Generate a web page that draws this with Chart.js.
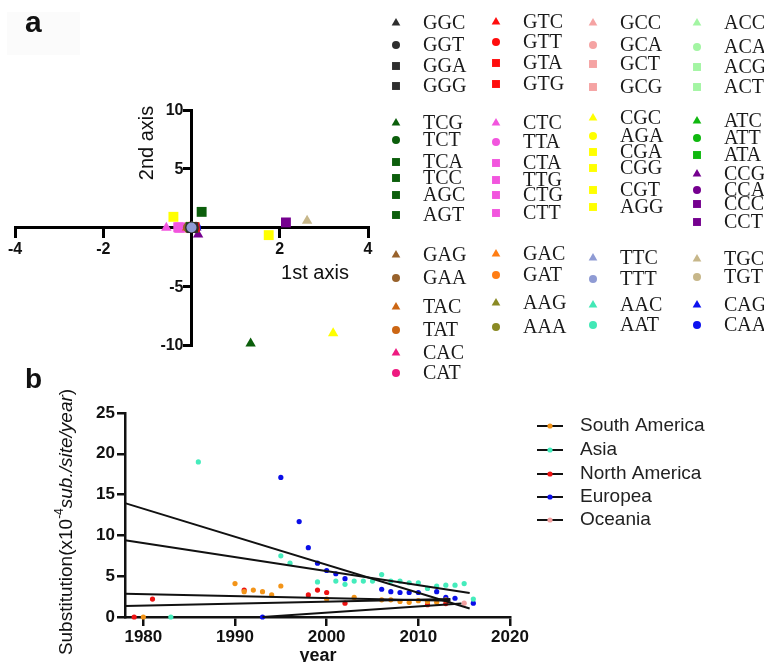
<!DOCTYPE html>
<html>
<head>
<meta charset="utf-8">
<script src="https://cdn.jsdelivr.net/npm/chart.js@4.4.1/dist/chart.umd.min.js"></script>
<style>
  html, body { margin: 0; padding: 0; background: #fff; }
  #wrap { position: relative; width: 764px; height: 662px; overflow: hidden; background: #fff; }
  #chartA { position: absolute; left: 0; top: 0; }
  #chartB { position: absolute; left: 0; top: 355px; }
</style>
</head>
<body>
<div id="wrap">
  <canvas id="chartA" width="764" height="380"></canvas>
  <canvas id="chartB" width="764" height="307"></canvas>
</div>
<script>
// panel a: codon usage on the first two axes
const codons = [
  "GGC", "GGT", "GGA", "GGG", "TCG", "TCT", "TCA", "TCC", "AGC", "AGT", "GAG", "GAA", "TAC", "TAT", "CAC", "CAT",
  "GTC", "GTT", "GTA", "GTG", "CTC", "TTA", "CTA", "TTG", "CTG", "CTT", "GAC", "GAT", "AAG", "AAA",
  "GCC", "GCA", "GCT", "GCG", "CGC", "AGA", "CGA", "CGG", "CGT", "AGG", "TTC", "TTT", "AAC", "AAT",
  "ACC", "ACA", "ACG", "ACT", "ATC", "ATT", "ATA", "CCG", "CCA", "CCC", "CCT", "TGC", "TGT", "CAG", "CAA",
]

const DG = "#2e2e2e", FG = "#0b5e0b", BR = "#98622c", RU = "#cc6614", RS = "#ee1a80"
const RD = "#ff0d0d", OR = "#f255de", OG = "#ff7d14", OL = "#8a8a24"
const SL = "#f5a3a3", YL = "#ffff00", PW = "#8f9bd4", AQ = "#42e8b6"
const MT = "#a3f5a3", GR = "#0fb80f", PU = "#75008f", TN = "#c7b78a", BL = "#0d12f0"

const codonColors = [
  DG, DG, DG, DG, FG, FG, FG, FG, FG, FG, BR, BR, RU, RU, RS, RS,
  RD, RD, RD, RD, OR, OR, OR, OR, OR, OR, OG, OG, OL, OL,
  SL, SL, SL, SL, YL, YL, YL, YL, YL, YL, PW, PW, AQ, AQ,
  MT, MT, MT, MT, GR, GR, GR, PU, PU, PU, PU, TN, TN, BL, BL,
]

const T = "triangle", C = "circle", R = "rect"
const codonShapes = [
  T, C, R, R, T, C, R, R, R, R, T, C, T, C, T, C,
  T, C, R, R, T, C, R, R, R, R, T, C, T, C,
  T, C, R, R, T, C, R, R, R, R, T, C, T, C,
  T, C, R, R, T, C, R, T, C, R, R, T, C, T, C,
]

const firstAxis = [
  0.02, -0.03, 0.0, 0.04, 1.34, 0.05, 0.23, -0.02, 0.0, 0.03, -0.05, -0.08, -0.1, -0.06, -0.04, 0.0,
  0.09, 0.06, 0.03, 0.07, -0.57, -0.02, -0.26, -0.3, -0.28, -0.05, -0.07, -0.09, -0.11, -0.08,
  0.02, 0.0, -0.01, 0.01, 3.21, 0.02, -0.41, 1.75, 0.0, -0.04, 0.01, 0.0, 0.02, -0.03,
  0.0, 0.03, -0.02, 0.01, 0.05, 0.04, 0.06, 0.15, 0.08, 2.14, 0.06, 2.62, -0.1, 0.11, 0.1,
]

const secondAxis = [
  0.0, 0.0, -0.05, 0.02, -9.87, -0.05, 1.33, 0.03, 0.0, -0.02, 0.0, 0.02, 0.0, -0.03, 0.02, -0.02,
  0.0, -0.04, 0.05, 0.02, -0.02, 0.0, 0.0, 0.02, -0.02, 0.0, 0.0, -0.02, 0.0, 0.02,
  0.0, 0.02, 0.0, -0.02, -9.0, 0.0, 0.91, -0.65, 0.02, 0.0, 0.02, 0.0, -0.02, 0.0,
  -0.01, 0.0, 0.01, 0.02, 0.0, 0.0, 0.01, -0.6, -0.02, 0.43, -0.03, 0.57, 0.0, 0.0, 0.02,
]

const firstAxisTicks = [-4, -2, 0, 2, 4]
const secondAxisTicks = [-10, -5, 0, 5, 10]

// panel b: substitution rate per year and region
const regions = ["South America", "Asia", "North America", "Europea", "Oceania"]
const regionColors = ["#f39418", "#45ecbc", "#ee1212", "#0a0ee8", "#f2a0a0"]

const southAmericaYears = [1980, 1990, 1991, 1992, 1993, 1994, 1995, 2000, 2003, 2006, 2007, 2008, 2009, 2010, 2011, 2012, 2013]
const southAmericaRates = [0, 4.1, 3.1, 3.3, 3.1, 2.7, 3.8, 2.2, 2.4, 2.1, 2.1, 1.9, 1.8, 2.0, 1.9, 1.8, 2.1]
const asiaYears = [1983, 1986, 1995, 1996, 1999, 2001, 2002, 2003, 2004, 2005, 2006, 2007, 2008, 2009, 2010, 2011, 2012, 2013, 2014, 2015, 2016]
const asiaRates = [0, 19.0, 7.5, 6.6, 4.3, 4.4, 4.0, 4.4, 4.4, 4.4, 5.2, 4.4, 4.4, 4.2, 4.2, 3.5, 3.8, 3.9, 3.9, 4.1, 2.2]
const northAmericaYears = [1979, 1981, 1991, 1998, 1999, 2000, 2002, 2011, 2013]
const northAmericaRates = [0, 2.2, 3.3, 2.7, 3.3, 3.0, 1.7, 1.5, 1.65]
const europeYears = [1993, 1995, 1997, 1998, 1999, 2000, 2001, 2002, 2006, 2007, 2008, 2009, 2010, 2012, 2013, 2014, 2016]
const europeRates = [0, 17.1, 11.7, 8.5, 6.6, 5.7, 5.3, 4.7, 3.4, 3.1, 3.0, 3.0, 3.0, 3.1, 2.4, 2.3, 1.7]
const oceaniaYears = [2015]
const oceaniaRates = [1.7]

const regionYears = [southAmericaYears, asiaYears, northAmericaYears, europeYears, oceaniaYears]
const regionRates = [southAmericaRates, asiaRates, northAmericaRates, europeRates, oceaniaRates]

// fitted trend lines, same order as regions
const fitStartYears = [1978, 1978, 1978, 1978, 1993]
const fitStartRates = [1.35, 9.4, 2.85, 13.95, 0]
const fitEndYears = [2013.5, 2015.6, 2013.5, 2015.6, 2014.7]
const fitEndRates = [2.2, 2.95, 2.0, 1.05, 1.65]

const yearTicks = [1980, 1990, 2000, 2010, 2020]
const rateTicks = [0, 5, 10, 15, 20, 25]

const SANS = '"Liberation Sans", Arial, sans-serif'
const SERIF = '"Liberation Serif", "Times New Roman", serif'

// legend grid of panel a
const legendMarkerX = [396, 496, 593, 697]
const legendTextX = [423, 523, 620, 724]
const legendColumnSizes = [16, 14, 14, 15]
const legendRowY = [
  23, 45, 66, 86, 123, 140, 162, 178, 195, 215, 255, 278, 307, 330, 353, 373,
  22, 42, 63, 84, 123, 142, 163, 180, 195, 213, 254, 275, 303, 327,
  23, 45, 64, 87, 118, 136, 152, 168, 190, 207, 258, 279, 305, 325,
  23, 47, 67, 87, 121, 138, 155, 174, 190, 204, 222, 259, 277, 305, 325,
]

const plotRadius = { circle: 5, triangle: 6, rect: 7 }
const legendRadius = { circle: 4, triangle: 5, rect: 5.6 }

function marker(ctx, style, radius, color, x, y) {
	ctx.save()
	ctx.fillStyle = color
	ctx.strokeStyle = color
	Chart.helpers.drawPoint(ctx, { pointStyle: style, radius, rotation: 0, borderWidth: 0 }, x, y)
	ctx.restore()
}

function text(ctx, str, x, y, font, align = "left", baseline = "alphabetic", color = "#111", rotate = 0) {
	ctx.save()
	ctx.translate(x, y)
	ctx.rotate(rotate)
	ctx.font = font
	ctx.fillStyle = color
	ctx.textAlign = align
	ctx.textBaseline = baseline
	ctx.fillText(str, 0, 0)
	ctx.restore()
}

function tickSetter(values) {
	return (scale) => {
		scale.ticks = values.map((value) => ({ value }))
	}
}

const codonPanelPlugin = {
	id: "codonPanel",
	beforeDraw(chart) {
		const ctx = chart.ctx
		ctx.save()
		ctx.fillStyle = "#fbfbfb"
		ctx.fillRect(7, 12, 73, 43)
		ctx.restore()
	},
	afterDraw(chart) {
		const ctx = chart.ctx
		const { x: xs, y: ys } = chart.scales
		text(ctx, "a", 25, 32, "bold 30px " + SANS)
		text(ctx, "2nd axis", 147, 143, "20px " + SANS, "center", "middle", "#111", -Math.PI / 2)
		text(ctx, "1st axis", 315, 273, "20px " + SANS, "center", "middle")

		// y tick labels sit left of the crossing axis
		const axisX = xs.getPixelForValue(0)
		secondAxisTicks.filter((v) => v !== 0).forEach((v) => {
			text(ctx, String(v), axisX - 8, ys.getPixelForValue(v) + 1, "bold 16px " + SANS, "right", "middle")
		})

		let i = 0
		legendColumnSizes.forEach((count, col) => {
			for (let k = 0; k < count; k++, i++) {
				const ds = chart.data.datasets[i]
				marker(ctx, ds.pointStyle, legendRadius[ds.pointStyle], ds.backgroundColor, legendMarkerX[col], legendRowY[i])
				text(ctx, ds.label, legendTextX[col], legendRowY[i] + 1, "20px " + SERIF, "left", "middle", "#1a1a1a")
			}
		})
	},
}

const axisLine = { display: true, width: 3, color: "#000" }

new Chart(document.getElementById("chartA"), {
	type: "scatter",
	data: {
		datasets: codons.map((label, i) => ({
			label,
			data: [{ x: firstAxis[i], y: secondAxis[i] }],
			pointStyle: codonShapes[i],
			pointRadius: plotRadius[codonShapes[i]],
			backgroundColor: codonColors[i],
			borderWidth: 0,
			clip: false,
			order: label === "TTT" ? -1 : 0,
		})),
	},
	options: {
		responsive: false,
		animation: false,
		devicePixelRatio: 1,
		events: [],
		layout: { padding: { left: 15, right: 396, top: 110, bottom: 35 } },
		plugins: { legend: { display: false }, tooltip: { enabled: false } },
		scales: {
			x: {
				type: "linear",
				position: { y: 0 },
				min: -4,
				max: 4,
				afterBuildTicks: tickSetter(firstAxisTicks),
				afterFit: (scale) => { scale.height = 0 },
				grid: { display: true, drawOnChartArea: false, drawTicks: true, tickLength: 9, lineWidth: 3, color: "#000" },
				border: axisLine,
				ticks: {
					autoSkip: false,
					maxRotation: 0,
					padding: 3,
					color: "#111",
					font: { family: SANS, size: 16, weight: "bold" },
					callback: (v) => (v === 0 ? "" : v),
				},
			},
			y: {
				type: "linear",
				position: { x: 0 },
				min: -10,
				max: 10,
				afterBuildTicks: tickSetter(secondAxisTicks),
				afterFit: (scale) => { scale.width = 0 },
				grid: { display: true, drawOnChartArea: false, drawTicks: true, tickLength: 7, lineWidth: 3, color: "#000" },
				border: axisLine,
				ticks: { display: false },
			},
		},
	},
	plugins: [codonPanelPlugin],
})

const legendRowsB = [71, 95, 119, 142, 165]

const ratePanelPlugin = {
	id: "ratePanel",
	afterDraw(chart) {
		const ctx = chart.ctx
		text(ctx, "b", 25, 33, "bold 28px " + SANS)
		text(ctx, "year", 318, 306, "bold 18px " + SANS, "center", "alphabetic")

		// y title with superscript and italic units
		const parts = [
			{ str: "Substitution(x10", font: "19px " + SANS, dy: 0 },
			{ str: "-4", font: "12px " + SANS, dy: -7 },
			{ str: "sub./site/year", font: "italic 19px " + SANS, dy: 0 },
			{ str: ")", font: "19px " + SANS, dy: 0 },
		]
		ctx.save()
		ctx.translate(67, 167)
		ctx.rotate(-Math.PI / 2)
		ctx.fillStyle = "#111"
		ctx.textBaseline = "middle"
		let total = 0
		parts.forEach((p) => {
			ctx.font = p.font
			p.w = ctx.measureText(p.str).width
			total += p.w
		})
		let x = -total / 2
		parts.forEach((p) => {
			ctx.font = p.font
			ctx.fillText(p.str, x, p.dy)
			x += p.w
		})
		ctx.restore()

		regions.forEach((name, i) => {
			const y = legendRowsB[i]
			ctx.save()
			ctx.strokeStyle = "#111"
			ctx.lineWidth = 2
			ctx.beginPath()
			ctx.moveTo(537, y)
			ctx.lineTo(563, y)
			ctx.stroke()
			ctx.restore()
			marker(ctx, "circle", 2.6, regionColors[i], 550, y)
			text(ctx, name, 580, y, "19px " + SANS, "left", "middle", "#222")
		})
	},
}

const pointSets = regions.map((label, i) => ({
	type: "scatter",
	label,
	data: regionYears[i].map((year, k) => ({ x: year, y: regionRates[i][k] })),
	pointRadius: 2.6,
	pointStyle: "circle",
	backgroundColor: regionColors[i],
	borderWidth: 0,
	clip: false,
	order: 1,
}))

const fitSets = regions.map((label, i) => ({
	type: "line",
	label: label + " fit",
	data: [
		{ x: fitStartYears[i], y: fitStartRates[i] },
		{ x: fitEndYears[i], y: fitEndRates[i] },
	],
	borderColor: "#111",
	borderWidth: 2,
	pointRadius: 0,
	fill: false,
	clip: false,
	order: 0,
}))

const axisLineB = { display: true, width: 2.5, color: "#111" }

new Chart(document.getElementById("chartB"), {
	type: "scatter",
	data: { datasets: [...pointSets, ...fitSets] },
	options: {
		responsive: false,
		animation: false,
		devicePixelRatio: 1,
		events: [],
		layout: { padding: { left: 0, right: 254, top: 58, bottom: 0 } },
		plugins: { legend: { display: false }, tooltip: { enabled: false } },
		scales: {
			x: {
				type: "linear",
				position: "bottom",
				min: 1978,
				max: 2020,
				afterBuildTicks: tickSetter(yearTicks),
				afterFit: (scale) => { scale.height = 45 },
				grid: { display: true, drawOnChartArea: false, drawTicks: true, tickLength: 9, lineWidth: 2.5, color: "#111" },
				border: axisLineB,
				ticks: {
					autoSkip: false,
					maxRotation: 0,
					padding: 1,
					color: "#111",
					font: { family: SANS, size: 17, weight: "bold" },
					callback: (v) => String(v),
				},
			},
			y: {
				type: "linear",
				position: "left",
				min: 0,
				max: 25,
				afterBuildTicks: tickSetter(rateTicks),
				afterFit: (scale) => { scale.width = 125 },
				grid: { display: true, drawOnChartArea: false, drawTicks: true, tickLength: 8, lineWidth: 2.5, color: "#111" },
				border: axisLineB,
				ticks: {
					autoSkip: false,
					padding: 2,
					color: "#111",
					font: { family: SANS, size: 17, weight: "bold" },
				},
			},
		},
	},
	plugins: [ratePanelPlugin],
})
</script>
</body>
</html>
